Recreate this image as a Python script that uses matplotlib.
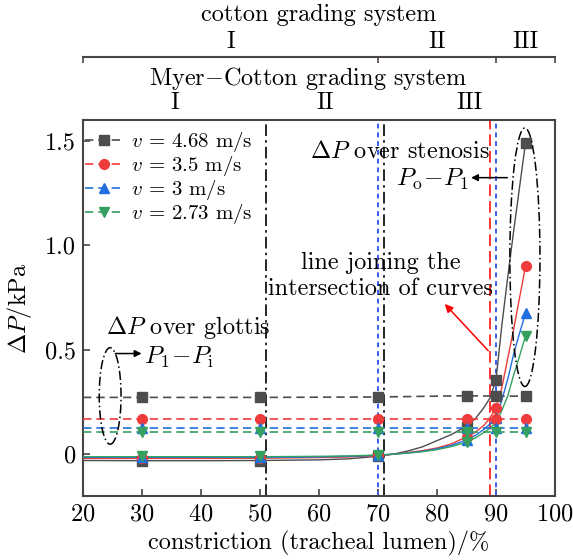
import matplotlib
matplotlib.use('Agg')
import matplotlib.pyplot as plt
from matplotlib.patches import Ellipse

plt.rcParams['font.family'] = ['cmr10', 'DejaVu Serif']
plt.rcParams['mathtext.fontset'] = 'cm'
plt.rcParams['axes.unicode_minus'] = False
plt.rcParams['axes.formatter.use_mathtext'] = True

# ---------------- data ----------------
velocity_labels = ['4.68', '3.5', '3', '2.73']
colors = ['#4d4d4d', '#ef3b3b', '#1f6fde', '#35a060']
markers = ['s', 'o', '^', 'v']

# measured points
point_x = [30, 50, 70, 85, 90, 95]
sten_468 = [-0.032, -0.032, -0.008, 0.130, 0.357, 1.490]
sten_35 = [-0.018, -0.018, -0.006, 0.083, 0.222, 0.900]
sten_3 = [-0.012, -0.012, -0.005, 0.068, 0.175, 0.675]
sten_273 = [-0.010, -0.010, -0.004, 0.057, 0.151, 0.567]

# pressure drop over glottis (dashed), line starts at left edge
glot_x = [20, 30, 50, 70, 85, 90, 95]
glot_468 = [0.272, 0.272, 0.272, 0.274, 0.280, 0.278, 0.278]
glot_35 = [0.167, 0.167, 0.167, 0.167, 0.167, 0.167, 0.167]
glot_3 = [0.125, 0.125, 0.125, 0.125, 0.125, 0.125, 0.125]
glot_273 = [0.106, 0.106, 0.106, 0.106, 0.106, 0.106, 0.106]

# fitted curves
fit_x = [20, 30, 40, 50, 60, 65, 70, 72.5, 75, 77.5, 80, 82.5, 85, 86.5, 88, 89, 90, 91, 92, 93, 94, 95]
fit_468 = [-0.030, -0.031, -0.031, -0.030, -0.027, -0.022, -0.010, 0.000, 0.015, 0.035, 0.065, 0.095,
           0.135, 0.170, 0.225, 0.270, 0.357, 0.620, 0.850, 1.070, 1.280, 1.490]
fit_35 = [-0.020, -0.020, -0.020, -0.019, -0.016, -0.013, -0.006, 0.000, 0.008, 0.017, 0.030, 0.050,
          0.083, 0.105, 0.140, 0.175, 0.222, 0.320, 0.460, 0.600, 0.750, 0.900]
fit_3 = [-0.015, -0.015, -0.015, -0.015, -0.013, -0.010, -0.005, 0.000, 0.006, 0.014, 0.026, 0.043,
         0.068, 0.090, 0.120, 0.145, 0.175, 0.260, 0.360, 0.480, 0.580, 0.675]
fit_273 = [-0.012, -0.012, -0.012, -0.012, -0.010, -0.008, -0.004, 0.000, 0.005, 0.012, 0.022, 0.037,
           0.057, 0.078, 0.105, 0.125, 0.151, 0.210, 0.280, 0.380, 0.470, 0.567]

sten_series = [sten_468, sten_35, sten_3, sten_273]
glot_series = [glot_468, glot_35, glot_3, glot_273]
fit_series = [fit_468, fit_35, fit_3, fit_273]

cotton_bounds = [20, 70, 90, 100]
cotton_labels = ['I', 'II', 'III']
myer_bounds = [20, 51, 71, 100]
myer_labels = ['I', 'II', 'III']
blue_lines = [70, 90]
red_line = 89

# ---------------- figure ----------------
W, H = 573, 560
fig = plt.figure(figsize=(W / 100, H / 100), dpi=100)
L, R, T, B = 83, 555, 120, 496
ax = fig.add_axes([L / W, 1 - B / H, (R - L) / W, (B - T) / H])
spine_c = '#4a4444'
FS = 17.5

for ys, c in zip(fit_series, colors):
    ax.plot(fit_x, ys, '-', color=c, lw=1.0, zorder=3)
for ys, c, m in zip(sten_series, colors, markers):
    ax.plot(point_x, ys, ls='none', marker=m, color=c, ms=7, zorder=4)

handles = []
for ys, c, m, lab in zip(glot_series, colors, markers, velocity_labels):
    h, = ax.plot(glot_x, ys, ls=(0, (5, 3)), marker=m, markevery=list(range(1, len(glot_x))),
                 color=c, lw=1.2, ms=7, zorder=4,
                 label=r'$v$ = %s m/s' % lab)
    handles.append(h)

for xv in myer_bounds[1:-1]:
    ax.axvline(xv, color='black', lw=1.2, ls=(0, (7, 2.5, 1.5, 2.5)), zorder=2)
for xv in blue_lines:
    ax.axvline(xv, color='#3a5cf0', lw=1.4, ls=(0, (2.5, 2)), zorder=2)
ax.axvline(red_line, color='#ff1010', lw=1.2, ls=(0, (7, 3)), zorder=2)

ax.set_xlim(20, 100)
ax.set_ylim(-0.2, 1.6)
ax.set_xticks([20, 30, 40, 50, 60, 70, 80, 90, 100])
ax.set_yticks([0, 0.5, 1.0, 1.5])
ax.set_yticklabels(['0', '0.5', '1.0', '1.5'])
ax.tick_params(direction='in', length=5, width=1.2, color=spine_c, labelsize=FS, pad=5)
for s in ax.spines.values():
    s.set_color(spine_c)
    s.set_linewidth(1.5)
ax.set_xlabel('constriction (tracheal lumen)/%', fontsize=FS, labelpad=4)
ax.set_ylabel(r'$\Delta P$/kPa', fontsize=FS, labelpad=8)

leg = ax.legend(handles=handles, loc='upper left', bbox_to_anchor=(-0.005, 0.985), frameon=False,
                fontsize=15, handlelength=1.8, handletextpad=0.4, labelspacing=0.0,
                borderaxespad=0.0, borderpad=0.2)

# ellipses
ax.add_patch(Ellipse((24.6, 0.279), 3.7, 0.462, fill=False, ec='black', lw=1.1,
                     ls=(0, (6, 2, 1, 2)), zorder=5))
ax.add_patch(Ellipse((94.9, 0.943), 5.1, 1.238, fill=False, ec='black', lw=1.1,
                     ls=(0, (6, 2, 1, 2)), zorder=5))

# annotations
ax.text(89.0, 1.448, r'$\Delta P$ over stenosis', ha='right', va='center', fontsize=FS)
ax.text(85.3, 1.318, r'$P_{\mathrm{o}}\!-\!P_1$', ha='right', va='center', fontsize=18)
ax.annotate('', xy=(85.3, 1.324), xytext=(92.4, 1.324),
            arrowprops=dict(arrowstyle='-|>', color='black', lw=1.1, mutation_scale=10))
ax.text(23.9, 0.605, r'$\Delta P$ over glottis', ha='left', va='center', fontsize=FS)
ax.text(30.4, 0.465, r'$P_1\!-\!P_{\mathrm{i}}$', ha='left', va='center', fontsize=18)
ax.annotate('', xy=(30.4, 0.482), xytext=(25.0, 0.482),
            arrowprops=dict(arrowstyle='-|>', color='black', lw=1.1, mutation_scale=10))
ax.text(70.5, 0.914, 'line joining the', ha='center', va='center', fontsize=FS)
ax.text(70.5, 0.790, 'intersection of curves', ha='center', va='center', fontsize=FS)
ax.annotate('', xy=(81.0, 0.729), xytext=(89.0, 0.486),
            arrowprops=dict(arrowstyle='-|>', color='red', lw=1.1, mutation_scale=12))

# grading systems on top
tr = ax.get_xaxis_transform()
ax.text(58.2, (B - 78) / (B - T), r'Myer$-$Cotton grading system', ha='center', va='center',
        fontsize=FS, transform=tr, clip_on=False)
for i, lab in enumerate(myer_labels):
    xc = (myer_bounds[i] + myer_bounds[i + 1]) / 2
    ax.text(xc, (B - 103) / (B - T), lab, ha='center', va='center', fontsize=FS,
            transform=tr, clip_on=False)

top_y = 57
axt = fig.add_axes([L / W, 1 - top_y / H, (R - L) / W, 0.001])
axt.set_xlim(20, 100)
axt.set_xticks(cotton_bounds)
axt.set_xticklabels([])
axt.set_yticks([])
for k in ['top', 'left', 'right']:
    axt.spines[k].set_visible(False)
axt.spines['bottom'].set_color(spine_c)
axt.spines['bottom'].set_linewidth(1.5)
axt.tick_params(axis='x', direction='out', length=4, width=1.2, color=spine_c)
axt.patch.set_visible(False)
ax.text(60, (B - 15) / (B - T), 'cotton grading system', ha='center', va='center',
        fontsize=FS, transform=tr, clip_on=False)
for i, lab in enumerate(cotton_labels):
    xc = (cotton_bounds[i] + cotton_bounds[i + 1]) / 2
    ax.text(xc, (B - 42) / (B - T), lab, ha='center', va='center', fontsize=FS,
            transform=tr, clip_on=False)

fig.savefig('out.png', dpi=100)
